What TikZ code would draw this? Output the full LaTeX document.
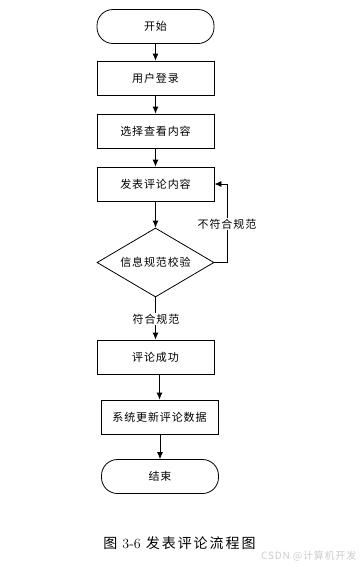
\documentclass[tikz,border=0pt]{standalone}
\usepackage{fontspec}
\newfontfamily\cjk[LetterSpace=8]{Noto Sans CJK SC}
\newfontfamily\capfont[LetterSpace=14]{Noto Sans CJK SC}
\usepackage{tikz}
\usetikzlibrary{shapes.geometric}
\usetikzlibrary{positioning, arrows.meta, calc}
\tikzset{
    startstop/.style={rectangle, rounded corners=16pt, draw, minimum width=117pt, minimum height=34pt, font=\cjk\fontsize{11}{13}\selectfont},
    process/.style={rectangle, draw, minimum width=117pt, minimum height=34pt, font=\cjk\fontsize{11}{13}\selectfont},
    decision/.style={diamond, draw, aspect=1.7, inner sep=0pt, minimum width=117pt, minimum height=69pt, font=\cjk\fontsize{11}{13}\selectfont},
    arrow/.style={-{Latex[length=7pt,width=6pt]}, line width=0.8pt},
    lbl/.style={fill=white, inner sep=1pt, font=\cjk\fontsize{11}{13}\selectfont}
}

\begin{document}
\begin{tikzpicture}[x=1pt, y=-1pt, line width=0.8pt]
    \useasboundingbox (0,0) rectangle (360,568);
    % flow nodes
    \node[startstop] (start) at (155.5,26.5) {开始};
    \node[process] (login) at (155.5,78) {用户登录};
    \node[process] (choose) at (155.5,131) {选择查看内容};
    \node[process] (post) at (155.5,184) {发表评论内容};
    \node[decision] (check) at (155.5,262.5) {信息规范校验};
    \node[process] (ok) at (155.5,357) {评论成功};
    \node[process] (update) at (159.5,417) {系统更新评论数据};
    \node[startstop] (stop) at (160,476.5) {结束};
    \coordinate (loop) at (227,262.5);
    % arrows
    \draw[arrow] (start) -- (login);
    \draw[arrow] (login) -- (choose);
    \draw[arrow] (choose) -- (post);
    \draw[arrow] (post) -- (check);
    \draw[arrow] (check.east) -- (loop) -- (loop |- post.east) -- (post.east);
    \node[lbl] (no) at (227,224) {不符合规范};
    \draw[arrow] (check.south) -- (ok.north);
    \node[lbl] (yes) at (156,319) {符合规范};
    \draw[arrow] (ok.south -| update.north) -- (update.north);
    \draw[arrow] (update.south -| stop.north) -- (stop.north);
    % caption
    \node[font=\capfont\fontsize{14}{16}\selectfont] (cap) at (179.5,543) {图 {\rmfamily 3-6} 发表评论流程图};
    \node[anchor=east, text=gray!40, font=\cjk\fontsize{10}{12}\selectfont] (mark) at (360,556) {CSDN @计算机开发};
\end{tikzpicture}
\end{document}
